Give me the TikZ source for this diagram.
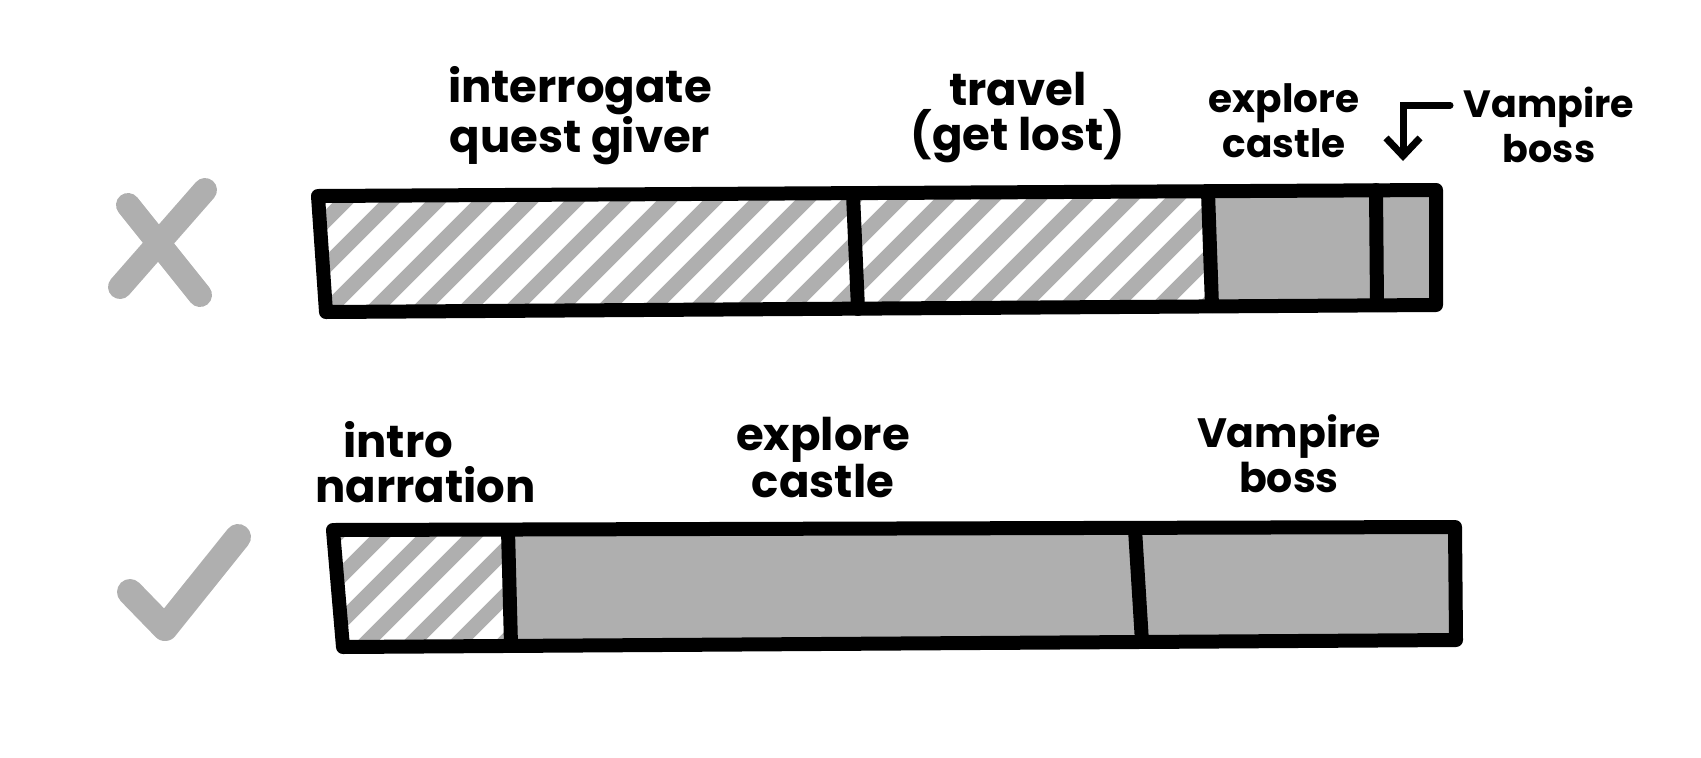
\documentclass[tikz,border=0pt]{standalone}
\usepackage{fontspec}
\setmainfont{Poppins}
\usepackage{xcolor}
\usetikzlibrary{arrows.meta}
\definecolor{pencilgray}{RGB}{175,175,175}

\begin{document}
\begin{tikzpicture}[
  x=1pt, y=-1pt,
  lbl/.style={font=\fontsize{#1}{45}\selectfont\bfseries, align=center, inner sep=0pt, anchor=base},
  lbl/.default=45,
  outline/.style={line width=14pt, black, line cap=round, line join=round},
  stripe/.style={line width=15pt, pencilgray},
  verdict/.style={line width=24pt, pencilgray, line cap=round, line join=round},
  pointer/.style={line width=7pt, line cap=round, -{Straight Barb[length=18pt,width=34pt]}}
]
  \useasboundingbox (0,0) rectangle (1701,758);

  % top bar corners
  \coordinate (tu0) at (318,196); \coordinate (td0) at (326,312);
  \coordinate (tu1) at (853,194); \coordinate (td1) at (858,309);
  \coordinate (tu2) at (1208,192); \coordinate (td2) at (1212,306);
  \coordinate (tu3) at (1376,190); \coordinate (td3) at (1377,305);
  \coordinate (tu4) at (1436,190); \coordinate (td4) at (1436,305);
  % bottom bar corners
  \coordinate (bu0) at (333,530); \coordinate (bd0) at (343,647);
  \coordinate (bu1) at (508,530); \coordinate (bd1) at (511,645);
  \coordinate (bu2) at (1135,529); \coordinate (bd2) at (1142,642);
  \coordinate (bu3) at (1455,527); \coordinate (bd3) at (1456,640);

  % fills
  \fill[pencilgray] (tu2) -- (tu4) -- (td4) -- (td2) -- cycle;
  \fill[pencilgray] (bu1) -- (bu3) -- (bd3) -- (bd1) -- cycle;
  \begin{scope}
    \clip (tu0) -- (tu2) -- (td2) -- (td0) -- cycle;
    \foreach \x in {170,216,...,1260} \draw[stripe] (\x,330) -- ++(160,-160);
  \end{scope}
  \begin{scope}
    \clip (bu0) -- (bu1) -- (bd1) -- (bd0) -- cycle;
    \foreach \x in {160,206,...,560} \draw[stripe] (\x,665) -- ++(160,-160);
  \end{scope}

  % outlines
  \draw[outline] (tu0) -- (tu4) -- (td4) -- (td0) -- cycle;
  \foreach \k in {1,2,3} \draw[outline] (tu\k) -- (td\k);
  \draw[outline] (bu0) -- (bu3) -- (bd3) -- (bd0) -- cycle;
  \foreach \k in {1,2} \draw[outline] (bu\k) -- (bd\k);

  % cross and tick
  \draw[verdict] (128,205) -- (200,295);
  \draw[verdict] (205,190) -- (120,287);
  \draw[verdict, line width=26pt] (130,592) -- (165,628) -- (238,537);

  % labels
  \node[lbl] (quest) at (580,152) {interrogate\\quest giver};
  \node[lbl] (travel) at (1018,150) {travel\\(get lost)};
  \node[lbl=39] (castleA) at (1284,157) {explore\\castle};
  \node[lbl=38] (bossA) at (1549,162) {Vampire\\boss};
  \node[lbl, align=left, anchor=base west] (intro) at (315,502) {\hspace*{28pt}intro\\narration};
  \node[lbl] (castleB) at (823,497) {explore\\castle};
  \node[lbl=41] (bossB) at (1289,492) {Vampire\\boss};

  \coordinate (bosstail) at (1450,105);
  \coordinate (bosstip) at (1403,161);
  \draw[pointer] (bosstail) -| (bosstip);
\end{tikzpicture}
\end{document}
